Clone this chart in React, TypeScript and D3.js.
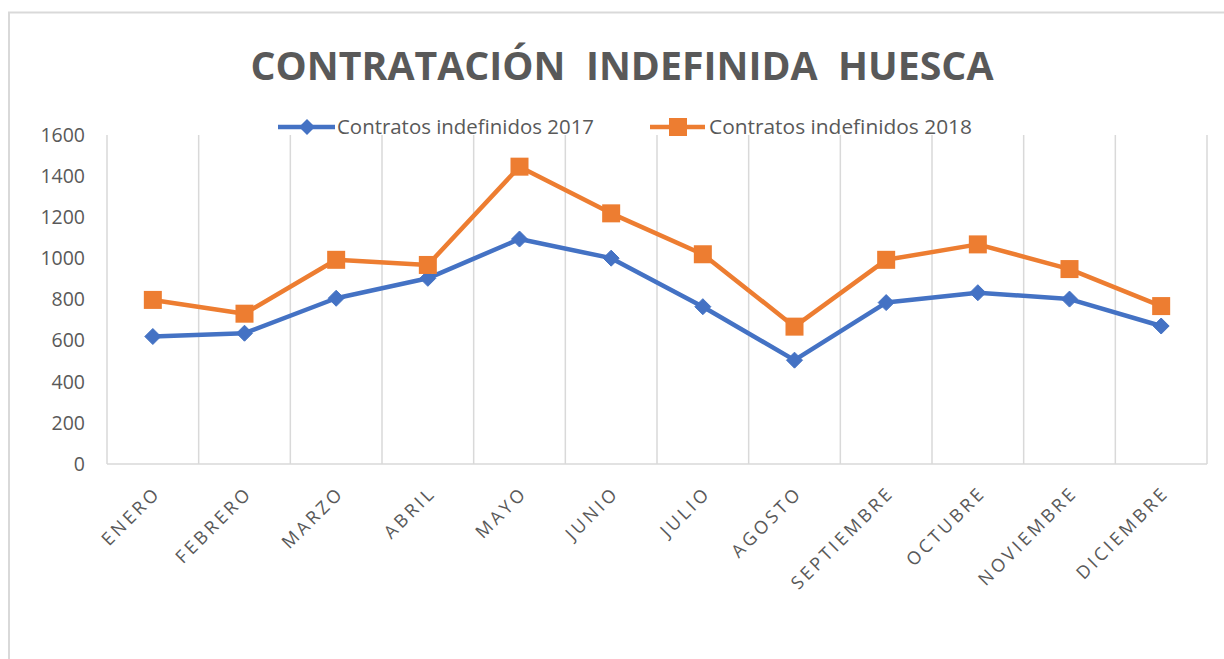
import React from "react";
import * as d3 from "d3";

const months = ["ENERO","FEBRERO","MARZO","ABRIL","MAYO","JUNIO","JULIO","AGOSTO","SEPTIEMBRE","OCTUBRE","NOVIEMBRE","DICIEMBRE"];
const values2017 = [620, 636, 806, 903, 1094, 1001, 765, 505, 785, 833, 802, 671];
const values2018 = [798, 731, 993, 968, 1446, 1219, 1020, 668, 993, 1068, 948, 768];
const yTicks = [0, 200, 400, 600, 800, 1000, 1200, 1400, 1600];
const seriesNames = ["Contratos indefinidos 2017", "Contratos indefinidos 2018"];
const title = "CONTRATACIÓN  INDEFINIDA  HUESCA";

const W = 1224, H = 659;
const plot = { left: 107, right: 1207, top: 135, bottom: 464 };
const BLUE = "#4472C4";
const ORANGE = "#ED7D31";
const GRID = "#D9D9D9";
const TEXT = "#595959";
const FONT = "'Open Sans', 'Noto Sans', sans-serif";

export default function App() {
  const x = d3.scaleBand<string>().domain(months).range([plot.left, plot.right]).paddingInner(0).paddingOuter(0);
  const y = d3.scaleLinear().domain([0, 1600]).range([plot.bottom, plot.top]);
  const cx = (m: string) => (x(m) as number) + x.bandwidth() / 2;
  const line = d3.line<number>().x((_, i) => cx(months[i])).y((v) => y(v));
  const boundaries = d3.range(months.length + 1).map((i) => plot.left + i * x.bandwidth());

  const diamond = (px: number, py: number, r: number) =>
    `M${px},${py - r}L${px + r},${py}L${px},${py + r}L${px - r},${py}Z`;

  return (
    <svg width={W} height={H} style={{ position: "absolute", left: 0, top: 0, background: "#fff" }}>
      {/* frame */}
      <rect x={9} y={12.5} width={W + 20} height={H + 20} fill="#fff" stroke={GRID} strokeWidth={2} />

      {/* title */}
      <text x={622} y={80} textAnchor="middle" fontFamily={FONT} fontWeight={700} fontSize={39} fill={TEXT}
        textLength={743} lengthAdjust="spacingAndGlyphs" style={{ whiteSpace: "pre" }}>{title}</text>

      {/* gridlines */}
      {boundaries.map((bx, i) => (
        <line key={i} x1={bx} x2={bx} y1={plot.top} y2={plot.bottom} stroke={GRID} strokeWidth={1.5} />
      ))}
      <line x1={plot.left} x2={plot.right} y1={plot.bottom} y2={plot.bottom} stroke={GRID} strokeWidth={1.5} />

      {/* y ticks */}
      {yTicks.map((t) => (
        <text key={t} x={85} y={y(t)} dy="0.35em" textAnchor="end" fontFamily={FONT} fontSize={19.5} fill={TEXT}>{t}</text>
      ))}

      {/* x labels */}
      {months.map((m) => {
        const ax = cx(m) + 9;
        const ay = 494;
        return (
          <text key={m} x={ax} y={ay} textAnchor="end" fontFamily={FONT} fontSize={18} fill={TEXT}
            letterSpacing={3.2} transform={`rotate(-45 ${ax} ${ay})`}>{m}</text>
        );
      })}

      {/* series */}
      <path d={line(values2017) || ""} fill="none" stroke={BLUE} strokeWidth={4.5} strokeLinejoin="round" />
      {values2017.map((v, i) => (
        <path key={i} d={diamond(cx(months[i]), y(v), 8)} fill={BLUE} stroke={BLUE} strokeWidth={1} />
      ))}
      <path d={line(values2018) || ""} fill="none" stroke={ORANGE} strokeWidth={4.5} strokeLinejoin="round" />
      {values2018.map((v, i) => (
        <rect key={i} x={cx(months[i]) - 9} y={y(v) - 9} width={18} height={18} fill={ORANGE} />
      ))}

      {/* legend */}
      <g>
        <line x1={278} x2={335} y1={127} y2={127} stroke={BLUE} strokeWidth={4.5} />
        <path d={diamond(307, 127, 8)} fill={BLUE} />
        <text x={337} y={127} dy="0.35em" fontFamily={FONT} fontSize={19.5} fill={TEXT}
          textLength={257} lengthAdjust="spacingAndGlyphs">{seriesNames[0]}</text>
        <line x1={650} x2={705} y1={127} y2={127} stroke={ORANGE} strokeWidth={4.5} />
        <rect x={669} y={118} width={18} height={18} fill={ORANGE} />
        <text x={709} y={127} dy="0.35em" fontFamily={FONT} fontSize={19.5} fill={TEXT}
          textLength={263} lengthAdjust="spacingAndGlyphs">{seriesNames[1]}</text>
      </g>
    </svg>
  );
}
